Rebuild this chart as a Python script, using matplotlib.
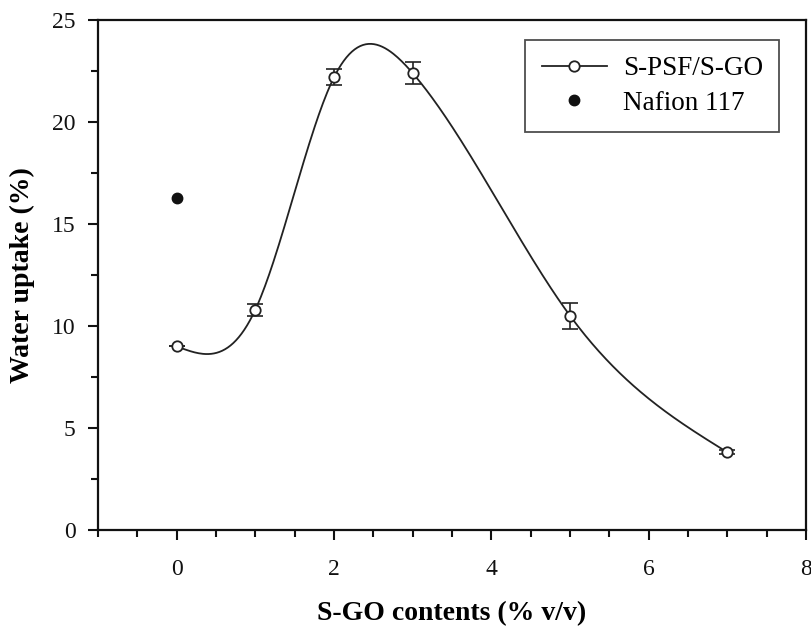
import numpy as np
import matplotlib
matplotlib.use("Agg")
import matplotlib.pyplot as plt
from matplotlib.ticker import MultipleLocator

plt.rcParams["font.family"] = ["Liberation Serif", "DejaVu Serif"]

# data
sgo = [0, 1, 2, 3, 5, 7]
uptake = [9.0, 10.8, 22.2, 22.4, 10.5, 3.8]
uptake_err = [0.0, 0.3, 0.4, 0.55, 0.65, 0.1]
nafion_x = [0]
nafion_y = [16.3]


#
#   natural cubic spline through the data points (smooth connecting line)
#
def natural_spline(x, y, n=400):
    x = np.asarray(x, float)
    y = np.asarray(y, float)
    k = len(x)
    h = np.diff(x)
    a = np.zeros((k, k))
    b = np.zeros(k)
    a[0, 0] = 1.0
    a[-1, -1] = 1.0
    for i in range(1, k - 1):
        a[i, i - 1] = h[i - 1]
        a[i, i] = 2 * (h[i - 1] + h[i])
        a[i, i + 1] = h[i]
        b[i] = 6 * ((y[i + 1] - y[i]) / h[i] - (y[i] - y[i - 1]) / h[i - 1])
    m = np.linalg.solve(a, b)
    xs = np.linspace(x[0], x[-1], n)
    idx = np.clip(np.searchsorted(x, xs) - 1, 0, k - 2)
    x0, x1 = x[idx], x[idx + 1]
    y0, y1 = y[idx], y[idx + 1]
    m0, m1 = m[idx], m[idx + 1]
    hh = x1 - x0
    t1 = x1 - xs
    t0 = xs - x0
    ys = (m0 * t1 ** 3 + m1 * t0 ** 3) / (6 * hh) \
        + (y0 / hh - m0 * hh / 6) * t1 + (y1 / hh - m1 * hh / 6) * t0
    return xs, ys


fig = plt.figure(figsize=(8.12, 6.30), dpi=100)
ax = fig.add_axes([0.1207, 0.159, 0.872, 0.809])

xs, ys = natural_spline(sgo, uptake)
ax.plot(xs, ys, color="#222222", lw=1.3, zorder=2)
ax.errorbar(sgo, uptake, yerr=uptake_err, fmt="none", ecolor="#222222",
            elinewidth=1.2, capsize=5.5, capthick=1.2, zorder=3)
ax.plot(sgo, uptake, "o", ms=7.5, mfc="white", mec="#222222", mew=1.3, zorder=4)
ax.plot(nafion_x, nafion_y, "o", ms=7.5, color="#111111", zorder=4)

# legend handles
ax.plot([], [], "-o", color="#222222", lw=1.3, ms=7.5, mfc="white", mew=1.3,
        label="S-PSF/S-GO")
ax.plot([], [], "o", ms=7.5, color="#111111", label="Nafion 117")
leg = ax.legend(loc="upper right", bbox_to_anchor=(0.962, 0.961), fontsize=19.5,
                frameon=True, fancybox=False, edgecolor="#222222",
                handlelength=2.4, handletextpad=0.6, borderpad=0.6,
                labelspacing=0.35, borderaxespad=0)
leg.get_frame().set_linewidth(1.3)

ax.set_xlim(-1, 8)
ax.set_ylim(0, 25)
ax.xaxis.set_major_locator(MultipleLocator(2))
ax.xaxis.set_minor_locator(MultipleLocator(0.5))
ax.yaxis.set_major_locator(MultipleLocator(5))
ax.yaxis.set_minor_locator(MultipleLocator(2.5))
ax.tick_params(which="both", direction="out", width=1.5, labelsize=17,
               colors="#111111")
ax.tick_params(which="major", length=7)
ax.tick_params(which="minor", length=5)
ax.tick_params(axis="y", pad=9)
ax.tick_params(axis="x", pad=14)
for s in ax.spines.values():
    s.set_linewidth(1.6)
    s.set_color("#111111")

ax.set_xlabel("S-GO contents (% v/v)", fontsize=20, fontweight="bold", labelpad=15)
ax.set_ylabel("Water uptake (%)", fontsize=20, fontweight="bold", labelpad=12)

fig.savefig("out.png", dpi=100)
